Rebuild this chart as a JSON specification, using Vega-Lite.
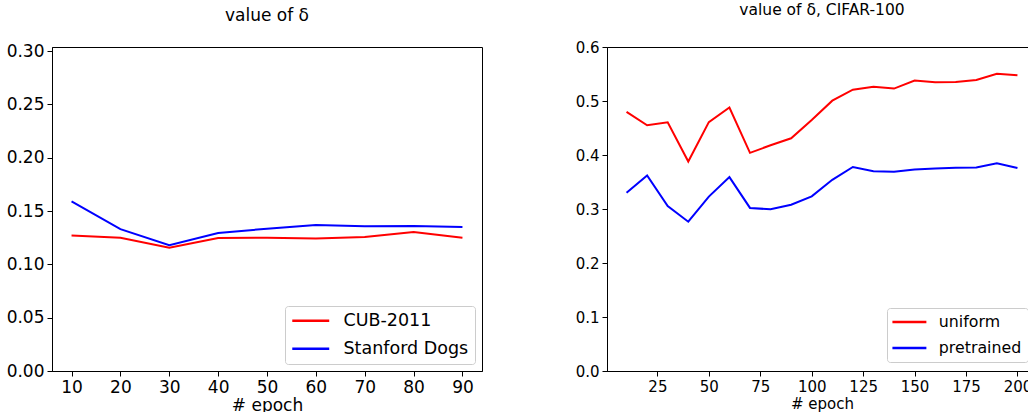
{
  "$schema": "https://vega.github.io/schema/vega-lite/v6.json",
  "padding": {"left": 5, "top": 2, "right": 0, "bottom": 0},
  "background": "white",
  "spacing": 83,
  "resolve": {"scale": {"color": "independent"}},
  "config": {
    "font": "DejaVu Sans",
    "view": {"stroke": "black", "strokeWidth": 1},
    "axis": {
      "grid": false, "domainColor": "black", "tickColor": "black", "labelColor": "black",
      "titleColor": "black", "labelFont": "DejaVu Sans", "titleFont": "DejaVu Sans",
      "titleFontWeight": "normal", "tickSize": 5, "domainWidth": 1, "tickWidth": 1, "labelPadding": 3
    },
    "title": {"font": "DejaVu Sans", "fontWeight": "normal", "color": "black", "baseline": "middle"},
    "legend": {"labelFont": "DejaVu Sans", "labelColor": "black"}
  },
  "hconcat": [
    {
      "width": 430, "height": 324,
      "title": {"text": "value of δ", "fontSize": 17, "offset": 17},
      "data": {"values": [
        {"epoch": 10, "delta": 0.127, "dataset": "CUB-2011"},
        {"epoch": 20, "delta": 0.125, "dataset": "CUB-2011"},
        {"epoch": 30, "delta": 0.1156, "dataset": "CUB-2011"},
        {"epoch": 40, "delta": 0.1247, "dataset": "CUB-2011"},
        {"epoch": 50, "delta": 0.125, "dataset": "CUB-2011"},
        {"epoch": 60, "delta": 0.1243, "dataset": "CUB-2011"},
        {"epoch": 70, "delta": 0.1256, "dataset": "CUB-2011"},
        {"epoch": 80, "delta": 0.1303, "dataset": "CUB-2011"},
        {"epoch": 90, "delta": 0.125, "dataset": "CUB-2011"},
        {"epoch": 10, "delta": 0.159, "dataset": "Stanford Dogs"},
        {"epoch": 20, "delta": 0.133, "dataset": "Stanford Dogs"},
        {"epoch": 30, "delta": 0.118, "dataset": "Stanford Dogs"},
        {"epoch": 40, "delta": 0.1294, "dataset": "Stanford Dogs"},
        {"epoch": 50, "delta": 0.1334, "dataset": "Stanford Dogs"},
        {"epoch": 60, "delta": 0.1369, "dataset": "Stanford Dogs"},
        {"epoch": 70, "delta": 0.1356, "dataset": "Stanford Dogs"},
        {"epoch": 80, "delta": 0.136, "dataset": "Stanford Dogs"},
        {"epoch": 90, "delta": 0.135, "dataset": "Stanford Dogs"}
      ]},
      "mark": {"type": "line", "strokeWidth": 2},
      "encoding": {
        "x": {"field": "epoch", "type": "quantitative",
          "scale": {"domain": [6, 94], "nice": false, "zero": false},
          "axis": {"values": [10, 20, 30, 40, 50, 60, 70, 80, 90], "title": "# epoch", "labelFontSize": 17, "titleFontSize": 17, "titlePadding": 2}},
        "y": {"field": "delta", "type": "quantitative",
          "scale": {"domain": [0, 0.30375], "nice": false},
          "axis": {"values": [0, 0.05, 0.1, 0.15, 0.2, 0.25, 0.3], "format": ".2f", "title": null, "labelFontSize": 17}},
        "color": {"field": "dataset", "type": "nominal",
          "scale": {"domain": ["CUB-2011", "Stanford Dogs"], "range": ["#ff0000", "#0000ff"]},
          "legend": {"orient": "bottom-right", "offset": 7, "title": null, "fillColor": "white", "strokeColor": "#cccccc", "cornerRadius": 3, "padding": 6, "labelFontSize": 17.5, "symbolType": "M-3.08,0H3.08", "symbolStrokeWidth": 2.5, "symbolSize": 144, "symbolOffset": 11, "labelOffset": 24, "rowPadding": 9}}
      }
    },
    {
      "width": 430, "height": 324,
      "title": {"text": "value of δ, CIFAR-100", "fontSize": 15.5, "offset": 22},
      "data": {"values": [
        {"epoch": 10, "delta": 0.480, "init": "uniform"},
        {"epoch": 20, "delta": 0.455, "init": "uniform"},
        {"epoch": 30, "delta": 0.4605, "init": "uniform"},
        {"epoch": 40, "delta": 0.388, "init": "uniform"},
        {"epoch": 50, "delta": 0.461, "init": "uniform"},
        {"epoch": 60, "delta": 0.488, "init": "uniform"},
        {"epoch": 70, "delta": 0.404, "init": "uniform"},
        {"epoch": 80, "delta": 0.418, "init": "uniform"},
        {"epoch": 90, "delta": 0.431, "init": "uniform"},
        {"epoch": 100, "delta": 0.465, "init": "uniform"},
        {"epoch": 110, "delta": 0.5006, "init": "uniform"},
        {"epoch": 120, "delta": 0.521, "init": "uniform"},
        {"epoch": 130, "delta": 0.5265, "init": "uniform"},
        {"epoch": 140, "delta": 0.523, "init": "uniform"},
        {"epoch": 150, "delta": 0.538, "init": "uniform"},
        {"epoch": 160, "delta": 0.5346, "init": "uniform"},
        {"epoch": 170, "delta": 0.535, "init": "uniform"},
        {"epoch": 180, "delta": 0.539, "init": "uniform"},
        {"epoch": 190, "delta": 0.5506, "init": "uniform"},
        {"epoch": 200, "delta": 0.5475, "init": "uniform"},
        {"epoch": 10, "delta": 0.330, "init": "pretrained"},
        {"epoch": 20, "delta": 0.362, "init": "pretrained"},
        {"epoch": 30, "delta": 0.3056, "init": "pretrained"},
        {"epoch": 40, "delta": 0.2765, "init": "pretrained"},
        {"epoch": 50, "delta": 0.323, "init": "pretrained"},
        {"epoch": 60, "delta": 0.359, "init": "pretrained"},
        {"epoch": 70, "delta": 0.302, "init": "pretrained"},
        {"epoch": 80, "delta": 0.2994, "init": "pretrained"},
        {"epoch": 90, "delta": 0.308, "init": "pretrained"},
        {"epoch": 100, "delta": 0.3235, "init": "pretrained"},
        {"epoch": 110, "delta": 0.354, "init": "pretrained"},
        {"epoch": 120, "delta": 0.3778, "init": "pretrained"},
        {"epoch": 130, "delta": 0.370, "init": "pretrained"},
        {"epoch": 140, "delta": 0.369, "init": "pretrained"},
        {"epoch": 150, "delta": 0.373, "init": "pretrained"},
        {"epoch": 160, "delta": 0.375, "init": "pretrained"},
        {"epoch": 170, "delta": 0.3765, "init": "pretrained"},
        {"epoch": 180, "delta": 0.377, "init": "pretrained"},
        {"epoch": 190, "delta": 0.3846, "init": "pretrained"},
        {"epoch": 200, "delta": 0.376, "init": "pretrained"}
      ]},
      "mark": {"type": "line", "strokeWidth": 2},
      "encoding": {
        "x": {"field": "epoch", "type": "quantitative",
          "scale": {"domain": [0.5, 209.5], "nice": false, "zero": false},
          "axis": {"values": [25, 50, 75, 100, 125, 150, 175, 200], "title": "# epoch", "labelFontSize": 15, "titleFontSize": 15, "titlePadding": 2}},
        "y": {"field": "delta", "type": "quantitative",
          "scale": {"domain": [0, 0.6], "nice": false},
          "axis": {"values": [0, 0.1, 0.2, 0.3, 0.4, 0.5, 0.6], "format": ".1f", "title": null, "labelFontSize": 15, "minExtent": 40, "maxExtent": 40}},
        "color": {"field": "init", "type": "nominal",
          "scale": {"domain": ["uniform", "pretrained"], "range": ["#ff0000", "#0000ff"]},
          "legend": {"orient": "bottom-right", "offset": 9, "title": null, "fillColor": "white", "strokeColor": "#cccccc", "cornerRadius": 3, "padding": 6, "labelFontSize": 15.8, "symbolType": "M-2.83,0H2.83", "symbolStrokeWidth": 2.5, "symbolSize": 144, "symbolOffset": 8.5, "labelOffset": 21.5, "rowPadding": 9}}
      }
    }
  ]
}
